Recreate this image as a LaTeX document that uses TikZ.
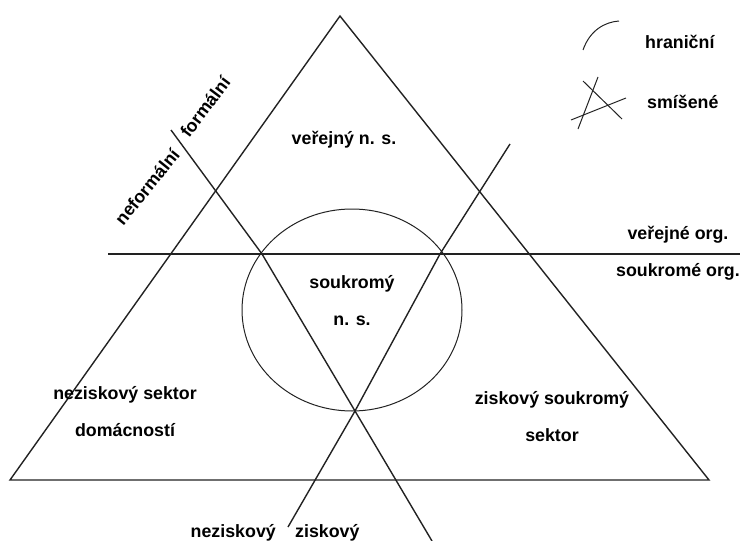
\documentclass[tikz,border=0pt]{standalone}
\usepackage{fontspec}
\setmainfont{Liberation Sans}
\usetikzlibrary{calc, shapes.geometric}
\definecolor{inkline}{HTML}{222222}
\tikzset{
  edge/.style={draw=inkline, line width=1.4pt},
  thinedge/.style={draw=inkline, line width=1pt},
  lbl/.style={font=\bfseries\fontsize{17.8}{37}\selectfont, text=black,
              align=center, inner sep=0pt},
}

\begin{document}
\begin{tikzpicture}[x=1pt, y=-1pt]
  \useasboundingbox (0,0) rectangle (742,541);

  % Sector triangle — corners
  \coordinate (apex) at (340,16);
  \coordinate (bl) at (10,480);
  \coordinate (br) at (709,480);
  \draw[edge] (bl) -- (apex) -- (br) -- cycle;

  % Inner crossing points
  \coordinate (cl) at (262,254);
  \coordinate (cr) at (440,254);
  \coordinate (cb) at (355,411);

  % Public / private organisations — horizontal divider
  \coordinate (hl) at (108,254);
  \coordinate (hr) at (740,254);
  \draw[edge] (hl) -- (hr);

  % Formal / informal and profit / non-profit dividers
  \coordinate (ft) at (171,130);
  \coordinate (fb) at (432,541);
  \coordinate (pt) at (510,144);
  \coordinate (pb) at (288,527);
  \draw[edge] (ft) -- (cl) -- (cb) -- (fb);
  \draw[edge] (pt) -- (cr) -- (cb) -- (pb);

  % Boundary ellipse
  \node[thinedge, ellipse, minimum width=220pt, minimum height=202pt,
        inner sep=0pt] (mix) at (352,310) {};

  % Sector labels
  \node[lbl] (pubnp) at (344,140) {veřejný n. s.};
  \node[lbl] (privnp) at (352,301) {soukromý\\n. s.};
  \node[lbl] (hhsec) at (125,412) {neziskový sektor\\domácností};
  \node[lbl] (forprof) at (552,417) {ziskový soukromý\\sektor};

  % Divider labels
  \node[lbl] (pubor) at (678,235) {veřejné org.};
  \node[lbl] (privor) at (678,272) {soukromé org.};
  \node[lbl, rotate=51] (informal) at (147,187) {neformální};
  \node[lbl, rotate=53] (formal) at (205,107) {formální};
  \node[lbl, anchor=east] (nonprof) at (276,533) {neziskový};
  \node[lbl, anchor=west] (prof) at (295,533) {ziskový};

  % Legend
  \draw[thinedge] (583,50) .. controls (590,30) and (605,22) .. (619,21);
  \node[lbl, anchor=west] (lgbound) at (645,42) {hraniční};
  \draw[thinedge] (583,81) -- (622,119);
  \draw[thinedge] (598,77) -- (578,129);
  \draw[thinedge] (571,120) -- (626,98);
  \node[lbl, anchor=west] (lgmix) at (647,102) {smíšené};
\end{tikzpicture}
\end{document}
